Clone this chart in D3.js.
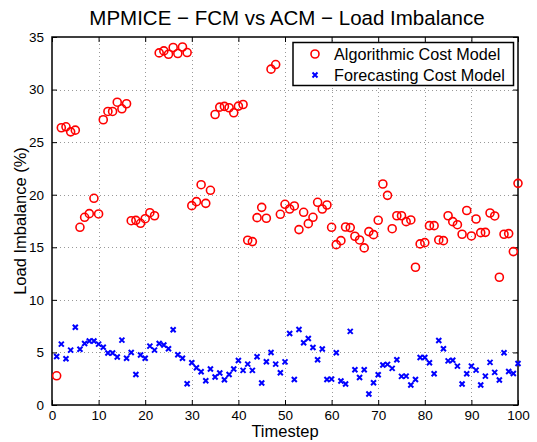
<!DOCTYPE html>
<html>
<head>
<meta charset="utf-8">
<script src="https://cdn.jsdelivr.net/npm/d3@7"></script>
<style>
  body { margin: 0; background: #fff; }
  text { font-family: "Liberation Sans", Arial, sans-serif; fill: #000; }
</style>
</head>
<body>
<div id="chart"></div>
<script>
// values, timesteps 1..100
const acm = [
  2.78, 26.37, 26.46, 25.98, 26.14, 16.9, 17.85, 18.2, 19.66, 18.17,
  27.13, 27.92, 27.92, 28.8, 28.17, 28.65, 17.53, 17.56, 17.28, 17.72,
  18.29, 18.0, 33.49, 33.68, 33.36, 34.0, 33.43, 34.05, 33.52, 18.96,
  19.34, 20.95, 19.18, 20.42, 27.63, 28.33, 28.4, 28.27, 27.79, 28.43,
  28.58, 15.67, 15.54, 17.82, 18.8, 17.76, 31.94, 32.38, 18.14, 19.09,
  18.64, 18.93, 16.68, 18.33, 17.25, 17.85, 19.28, 18.64, 19.02, 16.9,
  15.25, 15.63, 16.93, 16.87, 16.05, 15.7, 14.94, 16.49, 16.2, 17.57,
  21.02, 19.94, 16.77, 18.0, 18.0, 17.44, 17.6, 13.1, 15.32, 15.44,
  17.06, 17.06, 15.7, 15.63, 18.0, 17.44, 17.15, 16.24, 18.5, 16.08,
  17.69, 16.39, 16.42, 18.26, 17.98, 12.15, 16.24, 16.3, 14.59, 21.08
];
const fcm = [
  4.62, 5.79, 4.4, 5.22, 7.4, 5.3, 5.85, 6.08, 6.08, 5.79,
  5.5, 4.94, 4.94, 4.56, 6.17, 4.45, 5.0, 2.9, 4.75, 4.44,
  5.6, 5.22, 5.85, 5.7, 5.35, 7.15, 4.78, 4.45, 2.02, 4.02,
  3.54, 3.16, 2.31, 3.42, 2.66, 3.04, 2.4, 2.9, 3.42, 4.24,
  3.29, 3.89, 3.29, 4.59, 2.09, 4.11, 5.0, 3.89, 3.07, 4.1,
  6.8, 2.43, 7.18, 5.92, 6.33, 5.47, 4.3, 5.32, 2.43, 2.46,
  4.97, 2.28, 1.99, 7.0, 3.35, 2.62, 3.35, 1.04, 2.12, 2.88,
  3.8, 3.86, 3.48, 4.3, 2.72, 2.75, 1.9, 2.43, 4.52, 4.52,
  4.02, 2.97, 6.14, 5.35, 4.2, 4.26, 3.7, 1.99, 2.97, 3.7,
  3.32, 1.9, 2.75, 4.05, 3.1, 2.37, 4.97, 3.19, 3.0, 3.95
];
const xTicks = [0, 10, 20, 30, 40, 50, 60, 70, 80, 90, 100];
const yTicks = [0, 5, 10, 15, 20, 25, 30, 35];
const seriesNames = ["Algorithmic Cost Model", "Forecasting Cost Model"];

const width = 537, height = 442;
const margin = {left: 52, right: 19, top: 37, bottom: 37};

const svg = d3.select("#chart").append("svg")
  .attr("width", width).attr("height", height);

const x = d3.scaleLinear().domain([0, 100]).range([margin.left, width - margin.right]);
const y = d3.scaleLinear().domain([0, 35]).range([height - margin.bottom, margin.top]);

// grid
let grid = svg.append("g").attr("stroke", "#999").attr("stroke-width", 1)
  .attr("stroke-dasharray", "1,3");
grid.selectAll("line.gx").data(xTicks.slice(1, -1)).enter().append("line")
  .attr("x1", d => Math.round(x(d)) + 0.5).attr("x2", d => Math.round(x(d)) + 0.5)
  .attr("y1", y(0)).attr("y2", y(35));
grid.selectAll("line.gy").data(yTicks.slice(1, -1)).enter().append("line")
  .attr("y1", d => Math.round(y(d)) + 0.5).attr("y2", d => Math.round(y(d)) + 0.5)
  .attr("x1", x(0)).attr("x2", x(100));

// axes, ticks inward on all sides
function axisStyle(g) {
  g.select(".domain").remove();
  g.selectAll("line").attr("stroke", "#000");
  g.selectAll("text").attr("font-size", 13.5).attr("font-family", "Liberation Sans, Arial, sans-serif");
}
svg.append("g").attr("transform", `translate(0,${y(0)})`)
  .call(d3.axisBottom(x).tickValues(xTicks).tickSizeInner(-5).tickSizeOuter(0).tickPadding(5))
  .call(axisStyle);
svg.append("g").attr("transform", `translate(0,${y(35)})`)
  .call(d3.axisTop(x).tickValues(xTicks).tickSizeInner(-5).tickSizeOuter(0).tickFormat(""))
  .call(axisStyle);
svg.append("g").attr("transform", `translate(${x(0)},0)`)
  .call(d3.axisLeft(y).tickValues(yTicks).tickSizeInner(-5).tickSizeOuter(0).tickPadding(8))
  .call(axisStyle);
svg.append("g").attr("transform", `translate(${x(100)},0)`)
  .call(d3.axisRight(y).tickValues(yTicks).tickSizeInner(-5).tickSizeOuter(0).tickFormat(""))
  .call(axisStyle);

svg.append("rect")
  .attr("x", x(0)).attr("y", y(35))
  .attr("width", x(100) - x(0)).attr("height", y(0) - y(35))
  .attr("fill", "none").attr("stroke", "#000").attr("stroke-width", 1.5);

// markers
const xPath = s => `M${-s},${-s}L${s},${s}M${-s},${s}L${s},${-s}`;

svg.append("g").selectAll("circle").data(acm).enter().append("circle")
  .attr("cx", (d, i) => x(i + 1)).attr("cy", d => y(d)).attr("r", 4)
  .attr("fill", "none").attr("stroke", "#ff0000").attr("stroke-width", 1.6);

svg.append("g").selectAll("path").data(fcm).enter().append("path")
  .attr("transform", (d, i) => `translate(${x(i + 1)},${y(d)})`)
  .attr("d", xPath(2.5))
  .attr("fill", "none").attr("stroke", "#0000ff").attr("stroke-width", 2);

// title and labels
svg.append("text").attr("x", 287).attr("y", 25).attr("text-anchor", "middle")
  .attr("font-size", 20.5).text("MPMICE \u2212 FCM vs ACM \u2212 Load Imbalance");
svg.append("text").attr("x", 285).attr("y", 436.5).attr("text-anchor", "middle")
  .attr("font-size", 16.5).text("Timestep");
svg.append("text").attr("transform", "translate(26,221) rotate(-90)")
  .attr("text-anchor", "middle").attr("font-size", 16.5).text("Load Imbalance (%)");

// legend
let legend = svg.append("g");
legend.append("rect").attr("x", 293).attr("y", 42.5).attr("width", 220.5).attr("height", 43)
  .attr("fill", "#fff").attr("stroke", "#000").attr("stroke-width", 1.5);
legend.append("circle").attr("cx", 315).attr("cy", 54).attr("r", 4)
  .attr("fill", "none").attr("stroke", "#ff0000").attr("stroke-width", 1.6);
legend.append("path").attr("transform", "translate(315,75)").attr("d", xPath(2.5))
  .attr("fill", "none").attr("stroke", "#0000ff").attr("stroke-width", 2);
legend.selectAll("text").data(seriesNames).enter().append("text")
  .attr("x", 334).attr("y", (d, i) => 60 + i * 20.5)
  .attr("font-size", 16.2).text(d => d);
</script>
</body>
</html>
